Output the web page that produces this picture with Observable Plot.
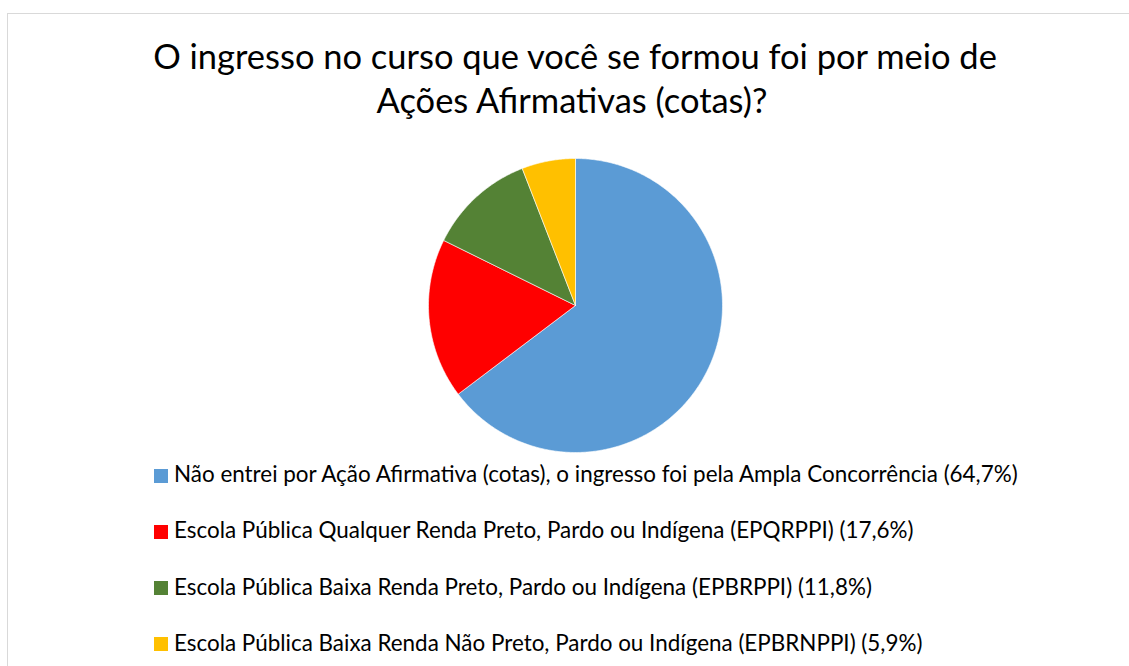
<!DOCTYPE html>
<html><head><meta charset="utf-8">
<script src="https://cdn.jsdelivr.net/npm/d3@7"></script>
<script src="https://cdn.jsdelivr.net/npm/@observablehq/plot@0.6"></script>
<style>
html,body{margin:0;padding:0;background:#fff;}
body{width:1129px;height:666px;overflow:hidden;position:relative;font-family:Lato,"Open Sans",sans-serif;color:#000;}
#frame{position:absolute;left:7px;top:13px;width:1140px;height:700px;border-top:1px solid #d9d9d9;border-left:1px solid #d9d9d9;box-sizing:border-box;}
.t{position:absolute;white-space:nowrap;line-height:1.2;left:0;top:0;}
.mk{display:inline-block;width:0;height:0;vertical-align:baseline;}
#chart{position:absolute;left:425px;top:155px;}
.sw{position:absolute;width:14px;height:14px;}
</style></head><body>
<div id="frame"></div>
<div id="chart"></div>
<script>
// ---- data ----
const titleLines = ["O ingresso no curso que você se formou foi por meio de", "Ações Afirmativas (cotas)?"];
const categories = [
  "Não entrei por Ação Afirmativa (cotas), o ingresso foi pela Ampla Concorrência",
  "Escola Pública Qualquer Renda Preto, Pardo ou Indígena (EPQRPPI)",
  "Escola Pública Baixa Renda Preto, Pardo ou Indígena (EPBRPPI)",
  "Escola Pública Baixa Renda Não Preto, Pardo ou Indígena (EPBRNPPI)"
];
const values = [64.7, 17.6, 11.8, 5.9];
const labels = ["64,7%", "17,6%", "11,8%", "5,9%"];
const colors = ["#5B9BD5", "#FF0000", "#548235", "#FFC000"];

// ---- pie geometry from data ----
const arcs = d3.pie().sort(null).startAngle(0).endAngle(2 * Math.PI)(values);
const pts = [];
arcs.forEach((a, i) => {
  const cat = categories[i];
  pts.push({cat, x: 0, y: 0});
  const n = Math.max(4, Math.ceil((a.endAngle - a.startAngle) / 0.01));
  for (let k = 0; k <= n; k++) {
    const t = a.startAngle + (a.endAngle - a.startAngle) * k / n;
    pts.push({cat, x: Math.sin(t), y: Math.cos(t)});
  }
  pts.push({cat, x: 0, y: 0});
});

const chart = Plot.plot({
  width: 300, height: 300, margin: 3,
  x: {domain: [-1, 1], axis: null},
  y: {domain: [-1, 1], axis: null},
  color: {domain: categories, range: colors},
  marks: [
    Plot.line(pts, {x: "x", y: "y", z: "cat", fill: "cat", stroke: "#ffffff", strokeWidth: 0.6})
  ]
});
document.getElementById("chart").append(chart);

// ---- text placement helpers ----
function makeText(text) {
  const el = document.createElement("div");
  el.className = "t";
  el.append(document.createTextNode(text));
  const mk = document.createElement("span");
  mk.className = "mk";
  el.append(mk);
  document.body.append(el);
  return el;
}
function fitSize(el, targetW) {
  el.style.fontSize = "30px";
  const w = el.getBoundingClientRect().width;
  return 30 * targetW / w;
}
function place(el, size, opts) {
  el.style.fontSize = size + "px";
  const r = el.getBoundingClientRect();
  const b = el.querySelector(".mk").getBoundingClientRect().top - r.top;
  el.style.top = (opts.baseline - b) + "px";
  el.style.left = (opts.center != null ? opts.center - r.width / 2 : opts.left) + "px";
}

// title
const t1 = makeText(titleLines[0]);
const tSize = fitSize(t1, 844);
place(t1, tSize, {center: 575, baseline: 69});
const t2 = makeText(titleLines[1]);
place(t2, tSize, {center: 572, baseline: 112.5});

// legend
const baselines = [482.3, 538.3, 594.5, 650.6];
const els = categories.map((c, i) => makeText(c + " (" + labels[i] + ")"));
const lSize = fitSize(els[0], 844);
els.forEach((el, i) => {
  place(el, lSize, {left: 174, baseline: baselines[i]});
  const sw = document.createElement("div");
  sw.className = "sw";
  sw.style.background = colors[i];
  sw.style.left = "154px";
  sw.style.top = (baselines[i] - 13.3) + "px";
  document.body.append(sw);
});
</script>
</body></html>
